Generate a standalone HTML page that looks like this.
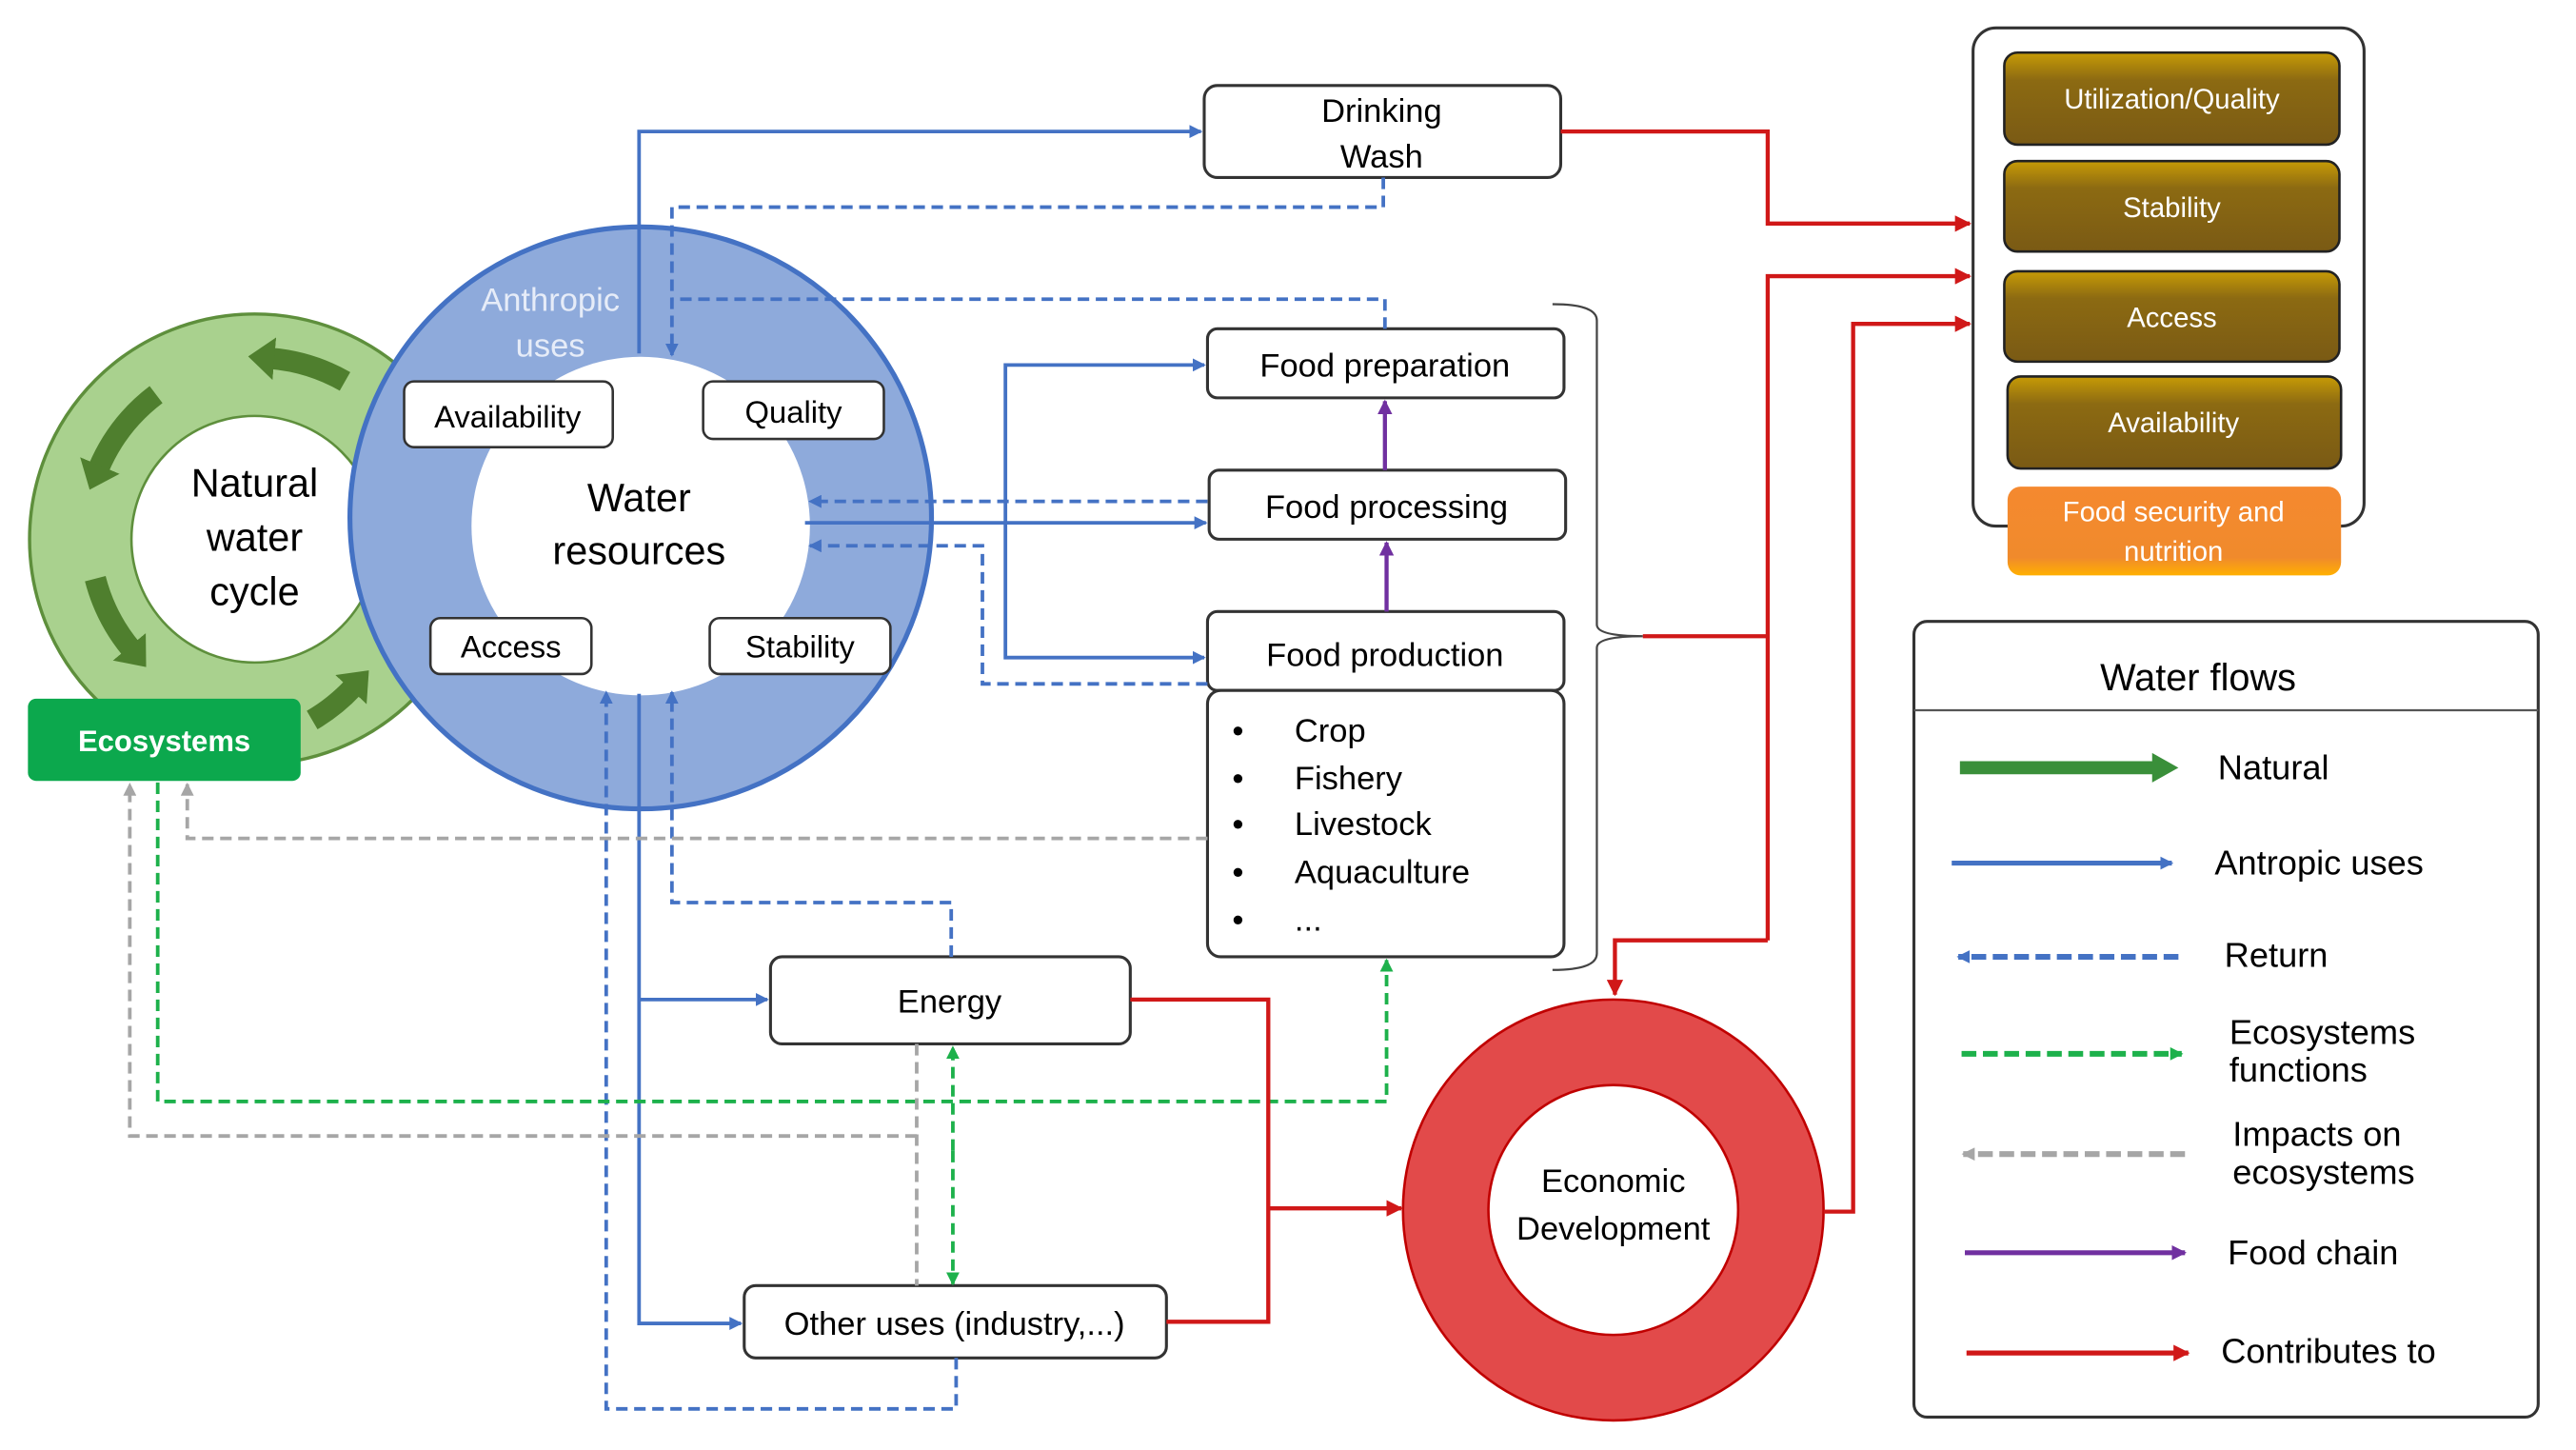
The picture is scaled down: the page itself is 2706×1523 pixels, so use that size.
<!DOCTYPE html>
<html><head><meta charset="utf-8"><style>
html,body{margin:0;padding:0;background:#fff}
svg{display:block}
text{font-family:"Liberation Sans",sans-serif;fill:#000}
</style></head><body>
<svg width="2706" height="1523" viewBox="0 0 1568 882" preserveAspectRatio="none" xmlns="http://www.w3.org/2000/svg">
<defs>
<marker id="ab" markerWidth="8" markerHeight="8" refX="7" refY="4" orient="auto" markerUnits="userSpaceOnUse"><path d="M0,0 L8,4 L0,8 z" fill="#4472c4"/></marker>
<marker id="ar" markerWidth="10" markerHeight="10" refX="9" refY="5" orient="auto" markerUnits="userSpaceOnUse"><path d="M0,0 L10,5 L0,10 z" fill="#d01818"/></marker>
<marker id="ap" markerWidth="9" markerHeight="9" refX="8" refY="4.5" orient="auto" markerUnits="userSpaceOnUse"><path d="M0,0 L9,4.5 L0,9 z" fill="#7030a0"/></marker>
<marker id="ag" markerWidth="8" markerHeight="8" refX="7" refY="4" orient="auto" markerUnits="userSpaceOnUse"><path d="M0,0 L8,4 L0,8 z" fill="#1db14b"/></marker>
<marker id="agr" markerWidth="8" markerHeight="8" refX="7" refY="4" orient="auto" markerUnits="userSpaceOnUse"><path d="M0,0 L8,4 L0,8 z" fill="#a6a6a6"/></marker>
<marker id="agn" markerWidth="18" markerHeight="26" refX="2" refY="13" orient="auto" markerUnits="userSpaceOnUse"><path d="M0,0 L16,13 L0,26 z" fill="#4f7f2e"/></marker>
<linearGradient id="gold" x1="0" y1="0" x2="0" y2="1"><stop offset="0" stop-color="#c79b06"/><stop offset="0.3" stop-color="#8c6a12"/><stop offset="1" stop-color="#7a5a14"/></linearGradient>
<linearGradient id="org" x1="0" y1="0" x2="0" y2="1"><stop offset="0" stop-color="#f5892f"/><stop offset="0.8" stop-color="#f08a2c"/><stop offset="1" stop-color="#ffb000"/></linearGradient>
</defs>

<circle cx="155" cy="328" r="106" fill="none" stroke="#a9d18e" stroke-width="62"/>
<circle cx="155" cy="328" r="137" fill="none" stroke="#5e8f3c" stroke-width="2"/>
<circle cx="155" cy="328" r="75" fill="#fff" stroke="#5e8f3c" stroke-width="1.5"/>
<g fill="none" stroke="#4f7f2e" stroke-width="13" marker-end="url(#agn)">
<path d="M210,232 A110,110 0 0 0 165,218"/>
<path d="M95,240 A110,110 0 0 0 60,285"/>
<path d="M58,352 A110,110 0 0 0 80,395"/>
<path d="M190,438 A110,110 0 0 0 215,418"/>
</g>
<text x="155" y="302" font-size="24" text-anchor="middle">Natural</text>
<text x="155" y="335" font-size="24" text-anchor="middle">water</text>
<text x="155" y="368" font-size="24" text-anchor="middle">cycle</text>

<circle cx="390" cy="315" r="177" fill="#8eaadb" stroke="#4472c4" stroke-width="3"/>
<circle cx="390" cy="320" r="103" fill="#fff"/>
<text x="335" y="189" font-size="20" text-anchor="middle" style="fill:#e6ecf8">Anthropic</text>
<text x="335" y="217" font-size="20" text-anchor="middle" style="fill:#e6ecf8">uses</text>
<text x="389" y="311" font-size="24" text-anchor="middle">Water</text>
<text x="389" y="343" font-size="24" text-anchor="middle">resources</text>
<g fill="#fff" stroke="#333" stroke-width="1.5">
<rect x="246" y="232" width="127" height="40" rx="6"/>
<rect x="428" y="232" width="110" height="35" rx="6"/>
<rect x="262" y="376" width="98" height="34" rx="6"/>
<rect x="432" y="376" width="110" height="34" rx="6"/>
</g>
<text x="309" y="260" font-size="19" text-anchor="middle">Availability</text>
<text x="483" y="257" font-size="19" text-anchor="middle">Quality</text>
<text x="311" y="400" font-size="19" text-anchor="middle">Access</text>
<text x="487" y="400" font-size="19" text-anchor="middle">Stability</text>

<rect x="17" y="425" width="166" height="50" rx="5" fill="#0ca84d"/>
<text x="100" y="457" font-size="18" font-weight="bold" text-anchor="middle" style="fill:#fff">Ecosystems</text>

<g fill="#fff" stroke="#333" stroke-width="1.8">
<rect x="733" y="52" width="217" height="56" rx="8"/>
<rect x="735" y="200" width="217" height="42" rx="6"/>
<rect x="736" y="286" width="217" height="42" rx="6"/>
<rect x="735" y="372" width="217" height="48" rx="6"/>
<rect x="735" y="420" width="217" height="162" rx="8"/>
<rect x="469" y="582" width="219" height="53" rx="7"/>
<rect x="453" y="782" width="257" height="44" rx="7"/>
</g>
<text x="841" y="74" font-size="20" text-anchor="middle">Drinking</text>
<text x="841" y="102" font-size="20" text-anchor="middle">Wash</text>
<text x="843" y="229" font-size="20" text-anchor="middle">Food preparation</text>
<text x="844" y="315" font-size="20" text-anchor="middle">Food processing</text>
<text x="843" y="405" font-size="20" text-anchor="middle">Food production</text>
<g font-size="20">
<text x="750" y="451">•</text><text x="788" y="451">Crop</text>
<text x="750" y="480">•</text><text x="788" y="480">Fishery</text>
<text x="750" y="508">•</text><text x="788" y="508">Livestock</text>
<text x="750" y="537">•</text><text x="788" y="537">Aquaculture</text>
<text x="750" y="566">•</text><text x="788" y="566">...</text>
</g>
<text x="578" y="616" font-size="20" text-anchor="middle">Energy</text>
<text x="581" y="812" font-size="20" text-anchor="middle">Other uses (industry,...)</text>

<path d="M945,185 Q972,185 972,195 L972,380 Q972,387 1000,387 Q972,387 972,394 L972,580 Q972,590 945,590" fill="none" stroke="#444" stroke-width="1.3"/>

<circle cx="982" cy="736" r="102" fill="none" stroke="#e24a4a" stroke-width="52"/>
<circle cx="982" cy="736" r="128" fill="none" stroke="#c00000" stroke-width="1.5"/>
<circle cx="982" cy="736" r="76" fill="#fff" stroke="#c00000" stroke-width="1.5"/>
<text x="982" y="725" font-size="20" text-anchor="middle">Economic</text>
<text x="982" y="754" font-size="20" text-anchor="middle">Development</text>

<rect x="1201" y="17" width="238" height="303" rx="14" fill="#fff" stroke="#333" stroke-width="1.8"/>
<g stroke="#222" stroke-width="1.5" fill="url(#gold)">
<rect x="1220" y="32" width="204" height="56" rx="8"/>
<rect x="1220" y="98" width="204" height="55" rx="8"/>
<rect x="1220" y="165" width="204" height="55" rx="8"/>
<rect x="1222" y="229" width="203" height="56" rx="8"/>
</g>
<rect x="1222" y="296" width="203" height="54" rx="8" fill="url(#org)"/>
<g font-size="17" text-anchor="middle">
<text x="1322" y="66" style="fill:#fff">Utilization/Quality</text>
<text x="1322" y="132" style="fill:#fff">Stability</text>
<text x="1322" y="199" style="fill:#fff">Access</text>
<text x="1323" y="263" style="fill:#fff">Availability</text>
<text x="1323" y="317" style="fill:#fff">Food security and</text>
<text x="1323" y="341" style="fill:#fff">nutrition</text>
</g>

<rect x="1165" y="378" width="380" height="484" rx="8" fill="#fff" stroke="#333" stroke-width="1.8"/>
<line x1="1165" y1="432" x2="1545" y2="432" stroke="#555" stroke-width="1.3"/>
<text x="1338" y="420" font-size="23" text-anchor="middle">Water flows</text>
<line x1="1193" y1="467" x2="1312" y2="467" stroke="#3a8f3a" stroke-width="8"/>
<path d="M1310,458 L1326,467 L1310,476 z" fill="#3a8f3a"/>
<line x1="1188" y1="525" x2="1322" y2="525" stroke="#4472c4" stroke-width="3" marker-end="url(#ab)"/>
<line x1="1326" y1="582" x2="1192" y2="582" stroke="#4472c4" stroke-width="3.5" stroke-dasharray="9,4" marker-end="url(#ab)"/>
<line x1="1194" y1="641" x2="1328" y2="641" stroke="#1db14b" stroke-width="3.5" stroke-dasharray="9,4" marker-end="url(#ag)"/>
<line x1="1330" y1="702" x2="1195" y2="702" stroke="#a6a6a6" stroke-width="3.5" stroke-dasharray="9,4" marker-end="url(#agr)"/>
<line x1="1196" y1="762" x2="1330" y2="762" stroke="#7030a0" stroke-width="3" marker-end="url(#ap)"/>
<line x1="1197" y1="823" x2="1332" y2="823" stroke="#d01818" stroke-width="3" marker-end="url(#ar)"/>
<g font-size="21">
<text x="1350" y="474">Natural</text>
<text x="1348" y="532">Antropic uses</text>
<text x="1354" y="588">Return</text>
<text x="1357" y="635">Ecosystems</text>
<text x="1357" y="658">functions</text>
<text x="1359" y="697">Impacts on</text>
<text x="1359" y="720">ecosystems</text>
<text x="1356" y="769">Food chain</text>
<text x="1352" y="829">Contributes to</text>
</g>

<g fill="none" stroke="#4472c4" stroke-width="2.2">
<path d="M389,215 L389,80 L731,80" marker-end="url(#ab)"/>
<path d="M490,318 L734,318" marker-end="url(#ab)"/>
<path d="M612,318 L612,222 L733,222" marker-end="url(#ab)"/>
<path d="M612,318 L612,400 L733,400" marker-end="url(#ab)"/>
<path d="M389,422 L389,805 L451,805" marker-end="url(#ab)"/>
<path d="M389,608 L467,608" marker-end="url(#ab)"/>
</g>
<g fill="none" stroke="#4472c4" stroke-width="2.2" stroke-dasharray="7,4">
<path d="M842,108 L842,126 L409,126 L409,216" marker-end="url(#ab)"/>
<path d="M843,200 L843,182 L409,182"/>
<path d="M735,305 L493,305" marker-end="url(#ab)"/>
<path d="M735,416 L598,416 L598,332 L493,332" marker-end="url(#ab)"/>
<path d="M582,826 L582,857 L369,857 L369,421" marker-end="url(#ab)"/>
<path d="M579,582 L579,549 L409,549 L409,421" marker-end="url(#ab)"/>
</g>
<g fill="none" stroke="#1db14b" stroke-width="2.2" stroke-dasharray="7,4">
<path d="M96,476 L96,670 L844,670 L844,584" marker-end="url(#ag)"/>
<path d="M580,700 L580,637" marker-end="url(#ag)"/>
<path d="M580,700 L580,781" marker-end="url(#ag)"/>
</g>
<g fill="none" stroke="#a6a6a6" stroke-width="2.2" stroke-dasharray="7,4">
<path d="M735,510 L114,510 L114,477" marker-end="url(#agr)"/>
<path d="M558,635 L558,782"/>
<path d="M558,691 L79,691 L79,477" marker-end="url(#agr)"/>
</g>
<g fill="none" stroke="#7030a0" stroke-width="2.5">
<path d="M844,372 L844,330" marker-end="url(#ap)"/>
<path d="M843,286 L843,244" marker-end="url(#ap)"/>
</g>
<g fill="none" stroke="#d01818" stroke-width="2.5">
<path d="M950,80 L1076,80 L1076,136 L1199,136" marker-end="url(#ar)"/>
<path d="M1000,387 L1076,387"/>
<path d="M1076,572 L1076,168 L1199,168" marker-end="url(#ar)"/>
<path d="M1076,572 L983,572 L983,605" marker-end="url(#ar)"/>
<path d="M688,608 L772,608 L772,804 L710,804"/>
<path d="M772,735 L853,735" marker-end="url(#ar)"/>
<path d="M1110,737 L1128,737 L1128,197 L1199,197" marker-end="url(#ar)"/>
</g>
</svg>
</body></html>
